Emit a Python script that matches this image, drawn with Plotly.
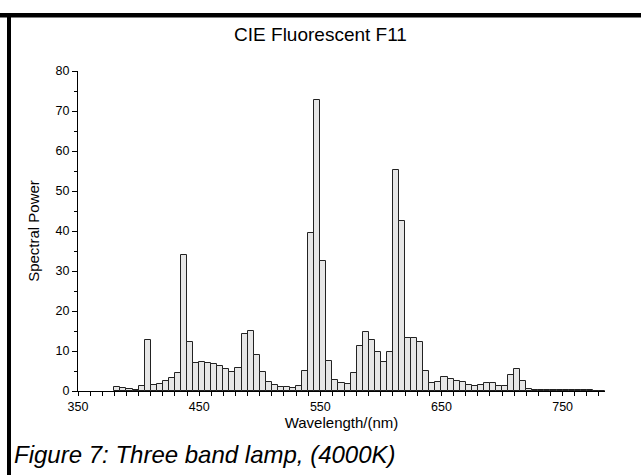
import plotly.graph_objects as go

wavelengths = list(range(380, 785, 5))
spectral_power = [
    0.91, 0.63, 0.46, 0.37, 1.29, 12.68, 1.59, 1.79, 2.46, 3.33,
    4.49, 33.94, 12.13, 6.95, 7.19, 7.12, 6.72, 6.13, 5.46, 4.79,
    5.66, 14.29, 14.96, 8.97, 4.72, 2.33, 1.47, 1.10, 0.89, 0.83,
    1.18, 4.90, 39.59, 72.84, 32.61, 7.52, 2.83, 1.96, 1.67, 4.43,
    11.28, 14.76, 12.73, 9.74, 7.33, 9.72, 55.27, 42.58, 13.18, 13.16,
    12.26, 5.11, 2.07, 2.34, 3.58, 3.01, 2.48, 2.14, 1.54, 1.33,
    1.46, 1.94, 2.00, 1.20, 1.35, 4.10, 5.58, 2.51, 0.57, 0.27,
    0.23, 0.21, 0.24, 0.24, 0.20, 0.24, 0.32, 0.26, 0.16, 0.12,
    0.09,
]
x_tickvals = [350, 450, 550, 650, 750]

W, H = 641, 475
ML, MR, MT, MB = 78, 36, 71, 84
pw, ph = W - ML - MR, H - MT - MB

def px(x):
    return (x - ML) / pw

def py(y):
    return (H - MB - y) / ph

fig = go.Figure(go.Bar(
    x=wavelengths, y=spectral_power, width=5, offset=0,
    marker=dict(color="#e6e6e6", line=dict(color="#222222", width=1)),
))

font = "Liberation Sans, Arial, sans-serif"
fig.update_layout(
    width=W, height=H,
    margin=dict(l=ML, r=MR, t=MT, b=MB),
    paper_bgcolor="white", plot_bgcolor="white",
    font=dict(family=font, size=12.5, color="black"),
    showlegend=False, bargap=0,
    title=dict(text="CIE Fluorescent F11", x=0.5, xanchor="center",
               y=1 - 34 / H, yanchor="middle", font=dict(size=19)),
    xaxis=dict(range=[350, 785], tickvals=x_tickvals, showgrid=False, zeroline=False,
               showline=True, linecolor="black", linewidth=1,
               ticks="outside", ticklen=4, tickcolor="black",
               minor=dict(dtick=10, tick0=350, ticks="outside", ticklen=4, tickcolor="black"),
               title=dict(text="Wavelength/(nm)", font=dict(size=15), standoff=4),
               tickfont=dict(size=12.5)),
    yaxis=dict(range=[0, 80], dtick=10, showgrid=False, zeroline=False,
               showline=True, linecolor="black", linewidth=1,
               ticks="outside", ticklen=5, tickcolor="black",
               minor=dict(dtick=5, ticks="outside", ticklen=3, tickcolor="black"),
               title=dict(text="Spectral Power", font=dict(size=15), standoff=12),
               tickfont=dict(size=12.5)),
    shapes=[
        dict(type="rect", xref="paper", yref="paper",
             x0=px(0), x1=px(W), y0=py(17.5), y1=py(13),
             fillcolor="black", line=dict(width=0), layer="above"),
        dict(type="rect", xref="paper", yref="paper",
             x0=px(7), x1=px(11), y0=py(H), y1=py(13),
             fillcolor="black", line=dict(width=0), layer="above"),
    ],
    annotations=[
        dict(text="<i>Figure 7: Three band lamp, (4000K)</i>", xref="paper", yref="paper",
             x=px(12), y=py(454), xanchor="left", yanchor="middle", showarrow=False,
             font=dict(size=24, family=font, color="black")),
    ],
)

fig.write_html("out.html")
